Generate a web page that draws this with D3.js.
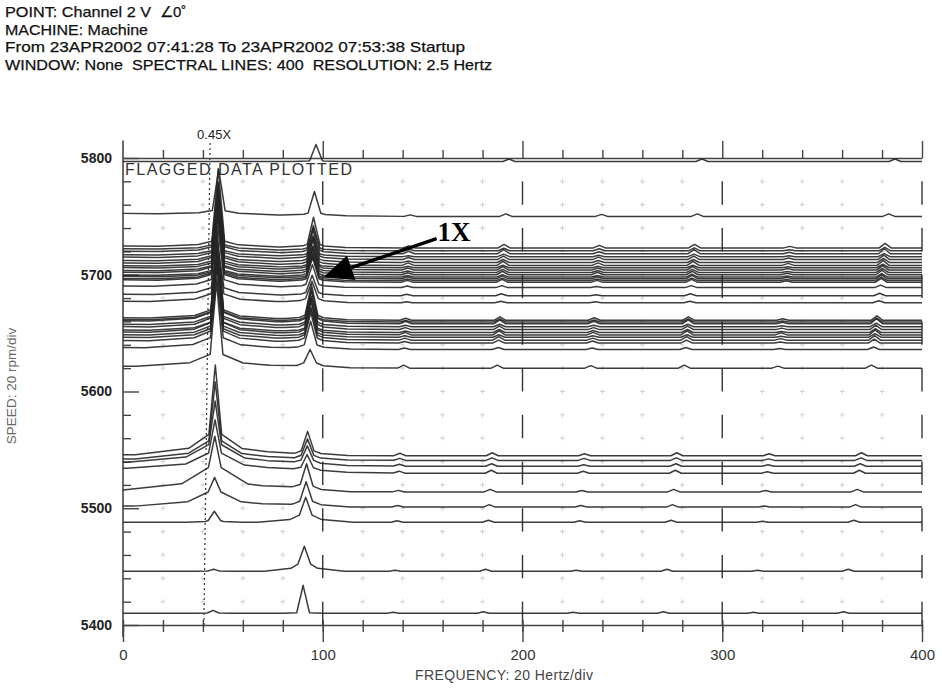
<!DOCTYPE html>
<html>
<head>
<meta charset="utf-8">
<script src="https://cdn.jsdelivr.net/npm/d3@7"></script>
<style>
  body { margin: 0; background: #fff; }
  svg { display: block; font-family: "Liberation Sans", Arial, sans-serif; }
</style>
</head>
<body>
<svg id="chart" width="942" height="690"></svg>
<script>
// ---- header / labels ----
const headerLines = [
  "POINT: Channel 2 V",
  "MACHINE: Machine",
  "From 23APR2002 07:41:28 To 23APR2002 07:53:38 Startup",
  "WINDOW: None  SPECTRAL LINES: 400  RESOLUTION: 2.5 Hertz"
];
const headerWidths = [146, 143, 460, 487];
const pointAngle = "\u22200\u02da";
const freqTickLabels = [0, 100, 200, 300, 400];
const speedTickLabels = [5400, 5500, 5600, 5700, 5800];
const freqTitle = "FREQUENCY: 20 Hertz/div";
const speedTitle = "SPEED: 20 rpm/div";
const flagNote = "FLAGGED DATA PLOTTED";
const orderLineValue = 0.45;          // order of the dotted reference line
const arrowLabel = "1X";
const arrowFrom = [157, 5731];        // [Hz, rpm]
const arrowTo = [100.5, 5698];        // [Hz, rpm]

// ---- waterfall data: one spectrum per machine speed ----
const speeds = [
  5797, 5750,
  5723, 5720.5, 5718, 5715.5, 5713, 5710.5, 5708, 5706, 5704, 5702, 5700, 5698, 5696.5, 5695, 5693.5,
  5689, 5682, 5676,
  5661, 5659.5, 5658, 5655.5, 5653, 5650.5, 5648.5, 5646.5, 5644, 5641.5,
  5636, 5620,
  5545, 5541, 5536, 5530, 5514, 5501, 5488, 5446, 5410
];
// 0.5X peak: height, skirt height, skirt half-width (Hz)
const halfAmp = [
  0.00, 0.90,
  1.56, 1.20, 1.40, 1.05, 1.50, 1.30, 1.45, 1.10, 1.60, 1.25, 1.50, 1.35, 1.20, 1.40, 1.30,
  1.20, 1.00, 1.10,
  1.60, 1.40, 1.80, 1.30, 1.70, 1.50, 1.90, 1.40, 1.60, 1.50,
  1.40, 1.70,
  1.80, 1.55, 1.25, 1.00, 1.10, 0.58, 0.22, 0.04, 0.06
];
const halfSkirt = [
  0.00, 0.10,
  0.14, 0.12, 0.14, 0.12, 0.14, 0.14, 0.16, 0.14, 0.14, 0.14, 0.16, 0.14, 0.14, 0.16, 0.16,
  0.18, 0.18, 0.20,
  0.22, 0.22, 0.24, 0.22, 0.24, 0.22, 0.26, 0.24, 0.24, 0.26,
  0.26, 0.30,
  0.50, 0.45, 0.45, 0.40, 0.55, 0.35, 0.06, 0.02, 0.02
];
const halfWidth = [
  20, 30,
  30, 30, 30, 30, 30, 30, 30, 30, 30, 30, 30, 30, 30, 30, 30,
  32, 32, 34,
  34, 34, 34, 34, 34, 34, 34, 34, 34, 34,
  36, 40,
  40, 40, 44, 44, 50, 40, 14, 8, 8
];
// 1X peak: height, skirt height, skirt half-width (Hz)
const oneAmp = [
  0.34, 0.48,
  0.60, 0.45, 0.55, 0.40, 0.58, 0.50, 0.52, 0.42, 0.60, 0.48, 0.55, 0.50, 0.45, 0.52, 0.48,
  0.45, 0.40, 0.42,
  0.70, 0.60, 0.68, 0.55, 0.65, 0.60, 0.70, 0.58, 0.62, 0.60,
  0.55, 0.36,
  0.48, 0.42, 0.38, 0.34, 0.54, 0.50, 0.50, 0.50, 0.56
];
const oneSkirt = [
  0.04, 0.08,
  0.10, 0.08, 0.10, 0.08, 0.10, 0.10, 0.10, 0.08, 0.10, 0.10, 0.10, 0.10, 0.08, 0.10, 0.10,
  0.10, 0.10, 0.12,
  0.14, 0.12, 0.14, 0.12, 0.14, 0.12, 0.14, 0.12, 0.14, 0.14,
  0.12, 0.14,
  0.14, 0.14, 0.14, 0.12, 0.16, 0.16, 0.20, 0.22, 0.04
];
const oneWidth = [
  12, 16,
  16, 16, 16, 16, 16, 16, 16, 16, 16, 16, 16, 16, 16, 16, 16,
  16, 16, 18,
  18, 18, 18, 18, 18, 18, 18, 18, 18, 18,
  20, 20,
  20, 20, 20, 20, 22, 22, 24, 20, 10
];
// low-frequency floor lift at 0 Hz
const lowFloor = [
  0.00, 0.06,
  0.04, 0.04, 0.05, 0.04, 0.05, 0.04, 0.05, 0.04, 0.05, 0.04, 0.05, 0.04, 0.05, 0.04, 0.05,
  0.03, 0.03, 0.03,
  0.05, 0.05, 0.06, 0.05, 0.06, 0.05, 0.06, 0.05, 0.06, 0.05,
  0.04, 0.04,
  0.02, 0.03, 0.08, 0.10, 0.02, 0.02, 0.00, 0.00, 0.00
];
// higher order bumps
const harmonicOrders = [1.5, 2, 2.5, 3, 3.5, 4];
const harmonicAmp = [
  [0, .05, 0, .05, 0, .05],
  [.03, .05, .04, .05, 0, .05],
  [.04, .07, .05, .07, .03, .09],
  [.03, .05, .04, .06, .02, .07],
  [.05, .08, .04, .08, .03, .10],
  [.02, .05, .03, .05, .02, .06],
  [.04, .07, .05, .07, .03, .09],
  [.03, .06, .04, .06, .02, .08],
  [.05, .08, .05, .08, .04, .10],
  [.03, .05, .03, .05, .02, .07],
  [.04, .07, .04, .07, .03, .09],
  [.03, .06, .04, .06, .02, .08],
  [.04, .07, .05, .07, .03, .09],
  [.03, .05, .03, .06, .02, .07],
  [.04, .06, .04, .07, .03, .08],
  [.03, .05, .03, .05, .02, .07],
  [.04, .06, .04, .06, .03, .08],
  [.03, .04, .02, .04, 0, .05],
  [.03, .04, .02, .04, 0, .05],
  [.02, .03, .02, .03, 0, .04],
  [.04, .07, .05, .07, .03, .09],
  [.03, .06, .04, .06, .02, .08],
  [.05, .08, .05, .08, .03, .10],
  [.03, .05, .03, .05, .02, .07],
  [.04, .07, .04, .07, .03, .09],
  [.03, .06, .04, .06, .02, .08],
  [.05, .08, .05, .08, .04, .10],
  [.03, .05, .03, .05, .02, .07],
  [.04, .07, .04, .07, .03, .09],
  [.03, .06, .04, .06, .02, .08],
  [.03, .04, .03, .04, .02, .05],
  [.06, .06, .05, .06, .04, .06],
  [.05, .06, .04, .06, .04, .06],
  [.04, .05, .04, .05, .03, .05],
  [.04, .05, .03, .05, .03, .05],
  [.04, .06, .04, .06, .03, .06],
  [.03, .05, .03, .05, .03, .05],
  [.03, .05, .03, .05, .02, .05],
  [.03, .04, .03, .04, .02, .04],
  [.02, .04, .02, .04, .02, .04],
  [.02, .03, .02, .03, .02, .03]
];

// ---- layout ----
const svg = d3.select("#chart");
const x = d3.scaleLinear().domain([0, 400]).range([123, 922]);
const y = d3.scaleLinear().domain([5400, 5800]).range([625, 158]);
const amp = d3.scaleLinear().domain([0, 1]).range([0, 50]);
const ink = "#262626";
const axisInk = "#444";

// header
const header = svg.append("g").attr("fill", "#111").attr("stroke", "#111").attr("stroke-width", 0.25);
header.selectAll("text").data(headerLines).join("text")
  .attr("x", 5).attr("y", (d, i) => 17 + i * 17.5)
  .attr("font-size", 15)
  .attr("textLength", (d, i) => headerWidths[i]).attr("lengthAdjust", "spacingAndGlyphs")
  .style("white-space", "pre")
  .text(d => d);
header.append("text").attr("x", 160).attr("y", 17).attr("font-size", 15).text(pointAngle);

// grid crosses every 20 Hz x 20 rpm
const gridF = d3.range(20, 400, 20).filter(f => f % 100 !== 0);
const gridS = d3.range(5420, 5800, 20);
const crosses = gridF.flatMap(f => gridS.map(s => [f, s]));
svg.append("g").attr("stroke", "#d2d2d2").attr("stroke-width", 1)
  .selectAll("path").data(crosses).join("path")
  .attr("d", d => `M${x(d[0]) - 2.5},${y(d[1])}h5M${x(d[0])},${y(d[1]) - 2.5}v5`);

// dashed frequency divisions at 100 Hz multiples
const dashF = [100, 200, 300, 400];
const dashS = d3.range(5400, 5800, 40);
svg.append("g").attr("stroke", "#333").attr("stroke-width", 1.4)
  .selectAll("line").data(dashF.flatMap(f => dashS.map(s => [f, s]))).join("line")
  .attr("x1", d => x(d[0])).attr("x2", d => x(d[0]))
  .attr("y1", d => y(d[1])).attr("y2", d => y(d[1] + 20));

// bottom axis
const bottomAxis = svg.append("g").attr("transform", `translate(0,${y(5400)})`);
bottomAxis.call(d3.axisBottom(x).tickValues(d3.range(0, 401, 20)).tickSizeInner(7).tickSizeOuter(0).tickFormat(""));
bottomAxis.selectAll(".tick line").attr("y1", -5);
const bottomMajor = svg.append("g").attr("transform", `translate(0,${y(5400)})`);
bottomMajor.call(d3.axisBottom(x).tickValues(freqTickLabels).tickSizeInner(17).tickSizeOuter(0).tickPadding(7));
bottomMajor.select(".domain").remove();
[bottomAxis, bottomMajor].forEach(g => {
  g.select(".domain").attr("stroke", axisInk).attr("stroke-width", 1.5);
  g.selectAll(".tick line").attr("stroke", axisInk).attr("stroke-width", 1.4);
});
bottomMajor.selectAll(".tick text").attr("font-size", 15).attr("fill", "#333")
  .attr("font-family", "Liberation Sans, Arial, sans-serif");

// top axis at the top speed
const topAxis = svg.append("g").attr("transform", `translate(0,${y(5800)})`);
topAxis.call(d3.axisTop(x).tickValues(d3.range(20, 401, 20).filter(f => f % 100 !== 0)).tickSizeInner(8).tickSizeOuter(0).tickFormat(""));
const topMajor = svg.append("g").attr("transform", `translate(0,${y(5800)})`);
topMajor.call(d3.axisTop(x).tickValues([100, 200, 300, 400]).tickSizeInner(17).tickSizeOuter(0).tickFormat(""));
topMajor.select(".domain").remove();
[topAxis, topMajor].forEach(g => {
  g.select(".domain").attr("stroke", axisInk).attr("stroke-width", 1.5);
  g.selectAll(".tick line").attr("stroke", axisInk).attr("stroke-width", 1.4);
});

// left speed axis
const leftAxis = svg.append("g").attr("transform", `translate(${x(0)},0)`);
leftAxis.call(d3.axisLeft(y).tickValues(d3.range(5420, 5800, 20).filter(s => s % 100 !== 0)).tickSizeInner(-8).tickSizeOuter(0).tickFormat(""));
leftAxis.select(".domain").remove();
const leftMajor = svg.append("g").attr("transform", `translate(${x(0)},0)`);
leftMajor.call(d3.axisLeft(y).tickValues(speedTickLabels).tickFormat(d3.format("d"))
  .tickSizeInner(-16).tickSizeOuter(0).tickPadding(11));
leftMajor.select(".domain").remove();
[leftAxis, leftMajor].forEach(g => g.selectAll(".tick line").attr("stroke", axisInk).attr("stroke-width", 1.4));
leftMajor.selectAll(".tick text").attr("font-size", 14).attr("font-weight", "bold").attr("fill", "#222")
  .attr("font-family", "Liberation Sans, Arial, sans-serif");
svg.append("line").attr("x1", x(0)).attr("x2", x(0)).attr("y1", y(5815)).attr("y2", y(5400) + 12)
  .attr("stroke", axisInk).attr("stroke-width", 1.6);

// order reference line
const orderSpeeds = [5400, 5815];
svg.append("line")
  .attr("x1", x(orderLineValue * orderSpeeds[0] / 60)).attr("y1", y(orderSpeeds[0]))
  .attr("x2", x(orderLineValue * orderSpeeds[1] / 60)).attr("y2", y(orderSpeeds[1]))
  .attr("stroke", "#333").attr("stroke-width", 1.2).attr("stroke-dasharray", "2,3");
svg.append("text").attr("x", x(orderLineValue * orderSpeeds[1] / 60) + 4).attr("y", 139)
  .attr("text-anchor", "middle").attr("font-size", 13).attr("fill", "#222")
  .text(orderLineValue + "X");

// ---- spectra ----
function spectrum(i) {
  const f1 = speeds[i] / 60;
  const comps = [];
  const addPeak = (f, A, S, W) => {
    const tip = Math.max(0, A - S);
    if (tip > 0) comps.push({ f, a: tip, w: 3.2 });
    if (S > 0) {
      comps.push({ f, a: S * 0.6, w: W / 3 });
      comps.push({ f, a: S * 0.4, w: W });
    }
  };
  addPeak(0.5 * f1, halfAmp[i], halfSkirt[i], halfWidth[i]);
  addPeak(f1, oneAmp[i], oneSkirt[i], oneWidth[i]);
  harmonicOrders.forEach((o, k) => {
    const a = harmonicAmp[i][k];
    if (a > 0) comps.push({ f: o * f1, a, w: 3 });
  });
  if (lowFloor[i] > 0) comps.push({ f: 0, a: lowFloor[i], w: 140 });
  const xs = new Set([0, 400]);
  comps.forEach(c => [c.f - c.w, c.f, c.f + c.w].forEach(v => { if (v > 0 && v < 400) xs.add(v); }));
  return Array.from(xs).sort((a, b) => a - b).map(f => [
    f,
    d3.sum(comps, c => Math.max(0, c.a * (1 - Math.abs(f - c.f) / c.w)))
  ]);
}
const line = d3.line();
svg.append("g").attr("fill", "none").attr("stroke", ink).attr("stroke-width", 1.5)
  .attr("stroke-linejoin", "round").attr("stroke-opacity", 0.9)
  .selectAll("path").data(speeds.map((s, i) => i)).join("path")
  .attr("d", i => line(spectrum(i).map(([f, a]) => [x(f), y(speeds[i]) - amp(a)])));

// flagged note
svg.append("text").attr("x", 125).attr("y", 175).attr("font-size", 16).attr("fill", "#333")
  .attr("textLength", 227).attr("lengthAdjust", "spacing").text(flagNote);

// annotation arrow
const ax1 = x(arrowFrom[0]), ay1 = y(arrowFrom[1]);
const ax2 = x(arrowTo[0]), ay2 = y(arrowTo[1]);
const ang = Math.atan2(ay2 - ay1, ax2 - ax1);
const headLen = 29, headHalf = 13;
const bx = ax2 - headLen * Math.cos(ang), by = ay2 - headLen * Math.sin(ang);
svg.append("line").attr("x1", ax1).attr("y1", ay1).attr("x2", bx).attr("y2", by)
  .attr("stroke", "#000").attr("stroke-width", 3.4);
svg.append("path").attr("fill", "#000")
  .attr("d", `M${ax2},${ay2}L${bx - headHalf * Math.sin(ang)},${by + headHalf * Math.cos(ang)}L${bx + headHalf * Math.sin(ang)},${by - headHalf * Math.cos(ang)}Z`);
svg.append("text").attr("x", ax1 + 1).attr("y", ay1 + 2)
  .attr("font-family", "Liberation Serif, Times New Roman, serif").attr("font-weight", "bold")
  .attr("font-size", 27).attr("fill", "#000").text(arrowLabel);

// axis titles
svg.append("text").attr("x", 415).attr("y", 680).attr("font-size", 14).attr("fill", "#444")
  .attr("textLength", 178).attr("lengthAdjust", "spacing").text(freqTitle);
svg.append("text").attr("transform", "translate(16,386) rotate(-90)").attr("text-anchor", "middle")
  .attr("font-size", 13.5).attr("fill", "#666").text(speedTitle);
</script>
</body>
</html>
